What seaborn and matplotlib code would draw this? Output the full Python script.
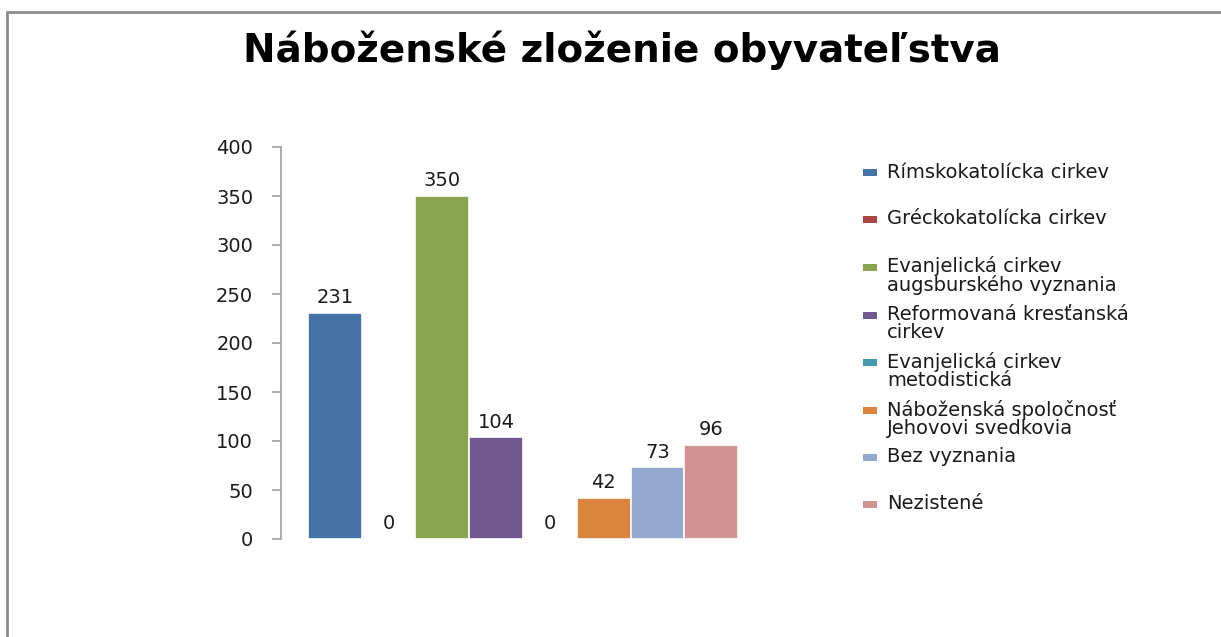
import matplotlib
matplotlib.use("Agg")
import matplotlib.pyplot as plt
import seaborn as sns
import pandas as pd
from matplotlib.patches import Rectangle
from matplotlib.lines import Line2D
from matplotlib.legend_handler import HandlerPatch

categories = [
    "Rímskokatolícka cirkev",
    "Gréckokatolícka cirkev",
    "Evanjelická cirkev augsburského vyznania",
    "Reformovaná kresťanská cirkev",
    "Evanjelická cirkev metodistická",
    "Náboženská spoločnosť Jehovovi svedkovia",
    "Bez vyznania",
    "Nezistené",
]
legend_labels = [
    "Rímskokatolícka cirkev\n ",
    "Gréckokatolícka cirkev\n ",
    "Evanjelická cirkev\naugsburského vyznania",
    "Reformovaná kresťanská\ncirkev",
    "Evanjelická cirkev\nmetodistická",
    "Náboženská spoločnosť\nJehovovi svedkovia",
    "Bez vyznania\n ",
    "Nezistené\n ",
]
values = [231, 0, 350, 104, 0, 42, 73, 96]
colors = ["#4572A7", "#AA4643", "#89A54E", "#71588F",
          "#4198AF", "#DB843D", "#93A9CF", "#D19392"]
yticks = [0, 50, 100, 150, 200, 250, 300, 350, 400]
title = "Náboženské zloženie obyvateľstva"

sns.set_theme(style="white")
plt.rcParams["font.family"] = ["DejaVu Sans"]

fig = plt.figure(figsize=(12.21, 6.37), dpi=100)
ax = fig.add_axes([281 / 1221, 1 - 539 / 637, (765 - 281) / 1221, (539 - 147) / 637])

df = pd.DataFrame({"grp": [""] * len(values), "val": values, "cat": categories})
sns.barplot(data=df, x="grp", y="val", hue="cat", hue_order=categories,
            palette=colors, saturation=1, width=0.8, errorbar=None, legend=False,
            edgecolor="white", linewidth=1.2, ax=ax)

for c in ax.containers:
    ax.bar_label(c, fmt="%d", padding=4, fontsize=14, color="#1a1a1a")

ax.set_xlim(-0.45, 0.45)
ax.set_ylim(0, 400)
ax.set_yticks(yticks)
ax.set_yticklabels([str(t) for t in yticks], fontsize=14, color="#1a1a1a")
ax.set_xticks([])
ax.set_xlabel("")
ax.set_ylabel("")
for s in ["top", "right", "bottom"]:
    ax.spines[s].set_visible(False)
ax.spines["left"].set_color("#A0A0A0")
ax.spines["left"].set_linewidth(1.2)
ax.tick_params(axis="y", left=True, length=6.5, width=1.2, color="#A0A0A0", pad=13.5)

# title
fig.text(622 / 1221, 1 - 50 / 637, title, ha="center", va="center",
         fontsize=28, fontweight="bold", color="black")

# legend
def top_patch(legend, orig_handle, xdescent, ydescent, width, height, fontsize):
    h = 5.0
    yc = -ydescent + height / 2 + 6.6
    return Rectangle((-xdescent, yc - h / 2), width, h)

handles = [Rectangle((0, 0), 1, 1, facecolor=col, edgecolor="none") for col in colors]
leg = fig.legend(handles, legend_labels, loc="upper left",
                 bbox_to_anchor=(853 / 1221, 1 - 153 / 637),
                 frameon=False, fontsize=14, handlelength=0.75,
                 handletextpad=0.5, labelspacing=0.49, borderpad=0,
                 handler_map={Rectangle: HandlerPatch(patch_func=top_patch)})
for t in leg.get_texts():
    t.set_linespacing(0.95)
    t.set_color("#1a1a1a")

# outer frame lines
fig.add_artist(Line2D([7 / 1221, 7 / 1221], [0, 1 - 12 / 637], transform=fig.transFigure,
                      color="#8c8c8c", linewidth=2))
fig.add_artist(Line2D([7 / 1221, 1], [1 - 12 / 637, 1 - 12 / 637], transform=fig.transFigure,
                      color="#8c8c8c", linewidth=2))

fig.savefig("out.png", dpi=100)
